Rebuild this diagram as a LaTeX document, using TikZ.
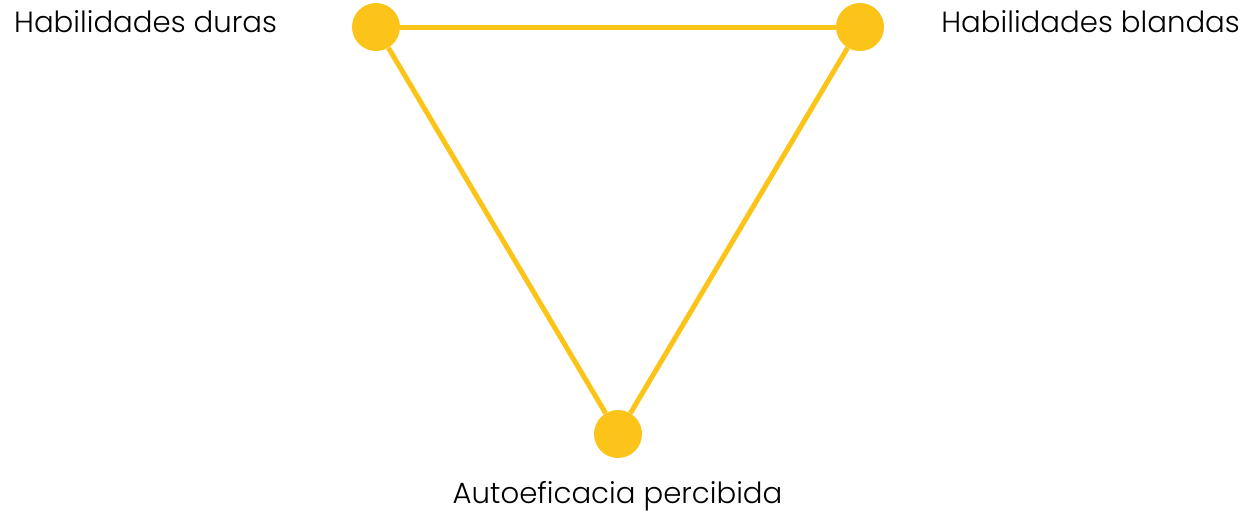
\documentclass[tikz,border=0pt]{standalone}
\usepackage{fontspec}
\setmainfont{Poppins Light}
\definecolor{gold}{HTML}{FCC419}
\begin{document}
\begin{tikzpicture}[x=1pt,y=-1pt,
  dot/.style={circle,fill=gold,minimum size=48pt,inner sep=0pt},
  edge/.style={draw=gold,line width=5pt},
  lbl/.style={inner sep=0pt,font=\fontsize{29.2}{34}\selectfont,text=black}]
\useasboundingbox (0,0) rectangle (1246,512);
\node[dot] (hd) at (376,27) {};
\node[dot] (hb) at (860,27) {};
\node[dot] (ap) at (618,434) {};
\draw[edge] (hd) -- (hb);
\draw[edge] (hb) -- (ap);
\draw[edge] (ap) -- (hd);
\node[lbl,anchor=base west] (t1) at (14,32) {Habilidades duras};
\node[lbl,anchor=base east] (t2) at (1240,32) {Habilidades blandas};
\node[lbl,anchor=base] (t3) at (617.5,503) {Autoeficacia percibida};
\end{tikzpicture}
\end{document}
